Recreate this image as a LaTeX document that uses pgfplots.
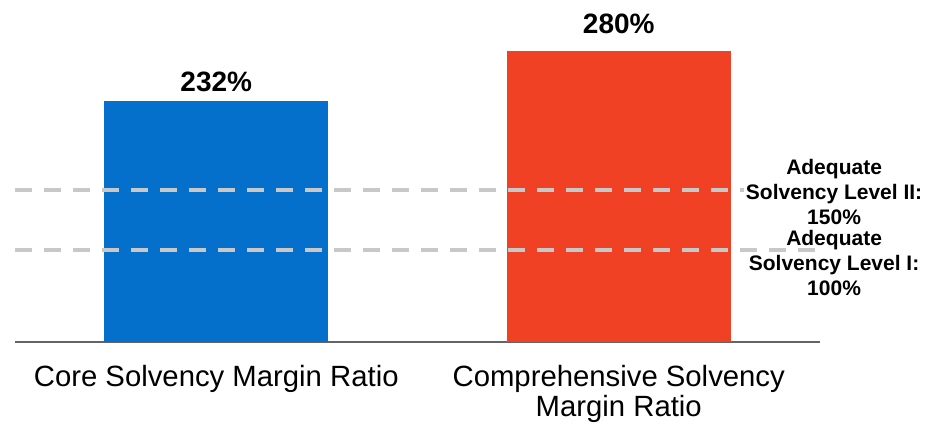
\documentclass[border=0pt]{standalone}
\usepackage{pgfplots}
\pgfplotsset{compat=1.18}
\usepackage{fontspec}
\setmainfont{Liberation Sans}
\definecolor{barblue}{RGB}{4,112,204}
\definecolor{barred}{RGB}{240,65,36}
\definecolor{dashgray}{RGB}{200,200,200}
\definecolor{basegray}{RGB}{100,100,100}
\begin{document}
\begin{tikzpicture}
\useasboundingbox (0,0) rectangle (926pt,424pt);
\begin{axis}[
  at={(15pt,82pt)}, anchor=south west,
  scale only axis, width=805pt, height=312pt,
  xmin=-0.5, xmax=1.5, ymin=0, ymax=300,
  axis x line=bottom, axis y line=none,
  x axis line style={-, draw=basegray, line width=2pt},
  xtick={0,1}, xtick style={draw=none}, major tick length=0pt,
  xticklabels={Core Solvency Margin Ratio, {Comprehensive Solvency\\Margin Ratio}},
  xticklabel style={align=center, font=\fontsize{29.3}{30}\selectfont, yshift=-20pt},
  clip=false,
]
\addplot[ybar, bar width=224pt, bar shift=0pt, fill=barblue, draw=none] coordinates {(0,232)};
\addplot[ybar, bar width=224pt, bar shift=0pt, fill=barred, draw=none] coordinates {(1,280)};
\addplot[sharp plot, no marks, draw=dashgray, line width=4pt, dash pattern=on 17pt off 12pt] coordinates {(-0.5,146) (1.5,146)};
\addplot[sharp plot, no marks, draw=dashgray, line width=4pt, dash pattern=on 17pt off 12pt] coordinates {(-0.5,88) (1.5,88)};
\node[anchor=base, font=\fontsize{28}{30}\selectfont\bfseries] at (axis cs:0,240.4) {232\%};
\node[anchor=base, font=\fontsize{28}{30}\selectfont\bfseries] at (axis cs:1,297) {280\%};
\node[fill=white, inner sep=2pt, align=center, font=\fontsize{21}{25}\selectfont\bfseries] at (axis cs:1.535,144) {Adequate\\Solvency Level II:\\150\%};
\node[inner sep=2pt, align=center, font=\fontsize{21}{25}\selectfont\bfseries] at (axis cs:1.535,76) {Adequate\\Solvency Level I:\\100\%};
\end{axis}
\end{tikzpicture}
\end{document}
